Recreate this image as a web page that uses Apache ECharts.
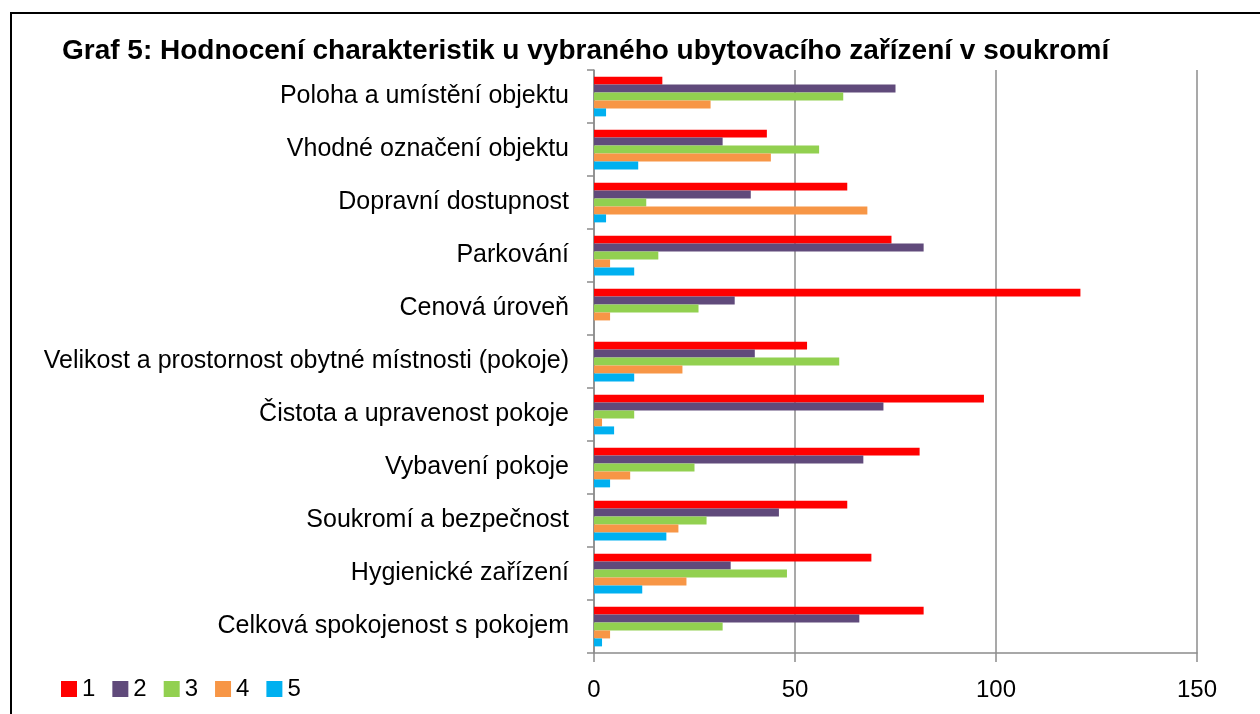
<!DOCTYPE html>
<html>
<head>
<meta charset="utf-8">
<script src="https://cdn.jsdelivr.net/npm/echarts@6/dist/echarts.min.js"></script>
<style>
  html, body { margin: 0; padding: 0; background: #fff; }
  #chart { width: 1260px; height: 714px; }
</style>
</head>
<body>
<div id="chart"></div>
<script>
// categories top to bottom
const categories = [
  'Poloha a umístění objektu',
  'Vhodné označení objektu',
  'Dopravní dostupnost',
  'Parkování',
  'Cenová úroveň',
  'Velikost a prostornost obytné místnosti (pokoje)',
  'Čistota a upravenost pokoje',
  'Vybavení pokoje',
  'Soukromí a bezpečnost',
  'Hygienické zařízení',
  'Celková spokojenost s pokojem'
];

const rating1 = [17, 43, 63, 74, 121, 53, 97, 81, 63, 69, 82];
const rating2 = [75, 32, 39, 82, 35, 40, 72, 67, 46, 34, 66];
const rating3 = [62, 56, 13, 16, 26, 61, 10, 25, 28, 48, 32];
const rating4 = [29, 44, 68, 4, 4, 22, 2, 9, 21, 23, 4];
const rating5 = [3, 11, 3, 10, 0, 10, 5, 4, 18, 12, 2];

const seriesNames = ['1', '2', '3', '4', '5'];
const seriesData = [rating1, rating2, rating3, rating4, rating5];
const colors = ['#ff0000', '#604a7b', '#92d050', '#f79646', '#00b0f0'];

const font = 'Liberation Sans, Arial, sans-serif';

const chart = echarts.init(document.getElementById('chart'));

const option = {
  backgroundColor: '#fff',
  animation: false,
  title: {
    text: 'Graf 5: Hodnocení charakteristik u vybraného ubytovacího zařízení v soukromí',
    left: 57,
    top: 32,
    textStyle: { fontFamily: font, fontSize: 28, fontWeight: 'bold', color: '#000' }
  },
  graphic: [{
    type: 'rect',
    shape: { x: 11, y: 13, width: 1400, height: 900 },
    style: { fill: 'none', stroke: '#000', lineWidth: 2 }
  }],
  legend: {
    left: 56,
    top: 672,
    itemWidth: 16,
    itemHeight: 16,
    itemGap: 17,
    icon: 'rect',
    textStyle: { fontFamily: font, fontSize: 24, color: '#000' },
    data: seriesNames
  },
  grid: { left: 594, right: 63, top: 70, bottom: 61 },
  xAxis: {
    type: 'value',
    min: 0,
    max: 150,
    interval: 50,
    axisLine: { show: true, lineStyle: { color: '#8c8c8c', width: 1.5 } },
    axisTick: { show: true, length: 9, lineStyle: { color: '#8c8c8c', width: 1.5 } },
    axisLabel: { fontFamily: font, fontSize: 24, color: '#000', margin: 25 },
    splitLine: { show: true, lineStyle: { color: '#8c8c8c', width: 1.5 } }
  },
  yAxis: {
    type: 'category',
    inverse: true,
    data: categories,
    axisLine: { show: true, lineStyle: { color: '#8c8c8c', width: 1.5 } },
    axisTick: { show: true, length: 7, lineStyle: { color: '#8c8c8c', width: 1.5 } },
    axisLabel: { fontFamily: font, fontSize: 25, color: '#000', margin: 25, padding: [4, 0, 0, 0] }
  },
  series: seriesNames.map((name, i) => ({
    name: name,
    type: 'bar',
    data: seriesData[i],
    barGap: '0%',
    barCategoryGap: '25%',
    itemStyle: { color: colors[i] }
  }))
};

chart.setOption(option);
</script>
</body>
</html>
